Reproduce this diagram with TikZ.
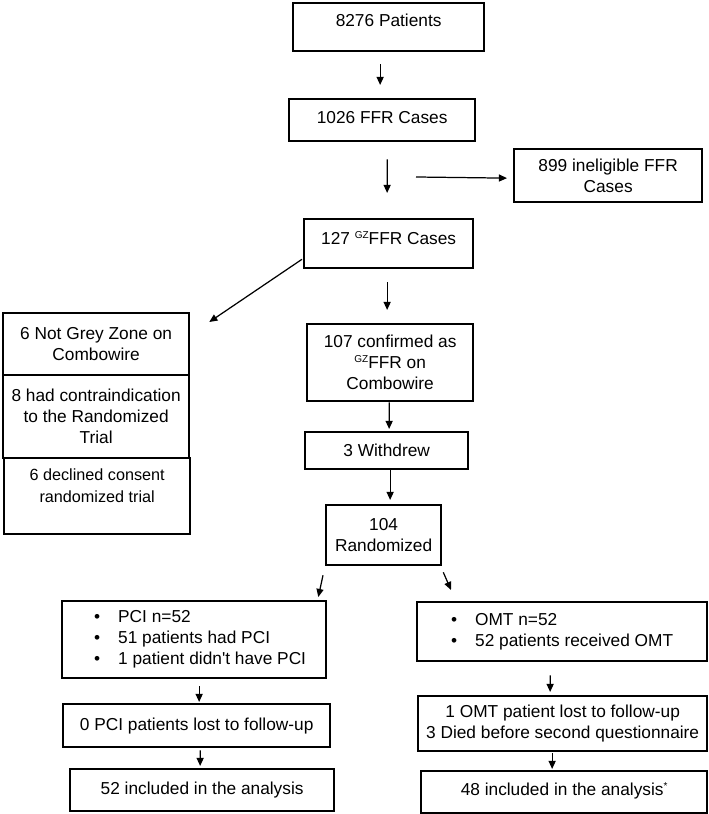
\documentclass[tikz,border=0pt]{standalone}
\usepackage{fontspec}
\setmainfont{Liberation Sans}
\usetikzlibrary{arrows.meta}

\newcommand{\gzmark}{\raisebox{3.4pt}{\fontsize{5.7pt}{5.7pt}\selectfont GZ}}
\newcommand{\starmark}{\raisebox{3.6pt}{\fontsize{5.7pt}{5.7pt}\selectfont *}}
\newcommand{\bul}{\makebox[0.48cm][l]{\textbullet}}

\tikzset{
  box/.style={draw, line width=1.3pt, rectangle, anchor=north west, inner sep=0pt,
    align=center, font=\fontsize{9.84pt}{11.95pt}\selectfont},
  smallbox/.style={box, font=\fontsize{9.22pt}{12.35pt}\selectfont},
  arrow/.style={line width=0.7pt, -{Triangle[length=4.6pt,width=4pt]}},
}

\begin{document}
\begin{tikzpicture}
                \useasboundingbox (0,0) rectangle (14.160000,16.280000);
                
                % Drawing box pat
                \draw (5.840000,16.240000) node (pat) [box, minimum width=3.82cm, minimum height=0.96cm, text depth=7.4pt] {8276 Patients};%
                
                % Drawing box ffr
                \draw (5.760000,14.320000) node (ffr) [box, minimum width=3.72cm, minimum height=0.84cm, text depth=3.4pt] {1026 FFR Cases};%
                
                % Drawing box inel
                \draw (10.260000,13.320000) node (inel) [box, minimum width=3.76cm, minimum height=1.06cm] {899 ineligible FFR\\Cases};%
                
                % Drawing box gz
                \draw (6.060000,11.920000) node (gz) [box, minimum width=3.38cm, minimum height=0.98cm, text height=7.05pt, text depth=6.3pt] {127 \gzmark FFR Cases};%
                
                % Drawing box ngz
                \draw (0.040000,10.040000) node (ngz) [box, minimum width=3.72cm, minimum height=1.24cm] {6 Not Grey Zone on\\Combowire};%
                
                % Drawing box contra
                \draw (0.040000,8.800000) node (contra) [box, minimum width=3.72cm, minimum height=1.66cm] {8 had contraindication\\to the Randomized\\Trial};%
                
                % Drawing box dec
                \draw (0.060000,7.140000) node (dec) [smallbox, minimum width=3.72cm, minimum height=1.52cm] {6 declined consent\\randomized trial\\\mbox{}};%
                
                % Drawing box conf
                \draw (6.120000,9.820000) node (conf) [box, minimum width=3.32cm, minimum height=1.54cm] {107 confirmed as\\\gzmark FFR on\\Combowire};%
                
                % Drawing box wd
                \draw (6.080000,7.660000) node (wd) [box, minimum width=3.26cm, minimum height=0.74cm] {3 Withdrew};%
                
                % Drawing box rnd
                \draw (6.500000,6.200000) node (rnd) [box, minimum width=2.30cm, minimum height=1.20cm] {104\\Randomized};%
                
                % Drawing box pci
                \draw (1.220000,4.280000) node (pci) [box, minimum width=5.28cm, minimum height=1.54cm] {\begin{tabular}{@{\hspace{0.24cm}}l@{}}\bul PCI n=52\\ \bul 51 patients had PCI\\ \bul 1 patient didn\textquotesingle t have PCI\end{tabular}};%
                
                % Drawing box omt
                \draw (8.320000,4.260000) node (omt) [box, minimum width=5.80cm, minimum height=1.18cm] {\begin{tabular}{@{}l@{}}\bul OMT n=52\\ \bul 52 patients received OMT\end{tabular}};%
                
                % Drawing box pcil
                \draw (1.240000,2.220000) node (pcil) [box, minimum width=5.34cm, minimum height=0.86cm] {0 PCI patients lost to follow-up};%
                
                % Drawing box omtl
                \draw (8.340000,2.380000) node (omtl) [box, minimum width=5.78cm, minimum height=1.10cm] {1 OMT patient lost to follow-up\\3 Died before second questionnaire};%
                
                % Drawing box pcia
                \draw (1.380000,0.920000) node (pcia) [box, minimum width=5.28cm, minimum height=0.84cm] {52 included in the analysis};%
                
                % Drawing box omta
                \draw (8.400000,0.880000) node (omta) [box, minimum width=5.72cm, minimum height=0.84cm, text depth=3.4pt] {48 included in the analysis\starmark};%
                
                % Drawing arrow pat ffr
                \draw [arrow] ([xshift=-0.17cm,yshift=-0.24cm]pat.south) -- ([xshift=-0.04cm,yshift=0.26cm]ffr.north);%
                
                % Drawing arrow ffr gz
                \draw [arrow] ([xshift=0.10cm,yshift=-0.34cm]ffr.south) -- ([xshift=-0.03cm,yshift=0.50cm]gz.north);%
                
                % Drawing arrow skip inel
                \coordinate (skip) at (8.320000,12.740000);
                \draw [arrow] (skip) -- ([xshift=-0.12cm,yshift=-0.05cm]inel.west);%
                
                % Drawing arrow gz ngz
                \draw [arrow] ([xshift=-0.02cm,yshift=0.20cm]gz.south west) -- ([xshift=0.38cm,yshift=-0.20cm]ngz.north east);%
                
                % Drawing arrow gz conf
                \draw [arrow] ([xshift=-0.03cm,yshift=-0.26cm]gz.south) -- ([xshift=-0.06cm,yshift=0.26cm]conf.north);%
                
                % Drawing arrow conf wd
                \draw [arrow] ([xshift=-0.02cm]conf.south) -- ([xshift=0.05cm,yshift=0.04cm]wd.north);%
                
                % Drawing arrow wd rnd
                \draw [arrow] ([xshift=0.07cm]wd.south) -- ([xshift=0.13cm,yshift=0.08cm]rnd.north);%
                
                % Drawing arrow rnd pci
                \draw [arrow] ([xshift=-0.04cm,yshift=-0.18cm]rnd.south west) -- ([xshift=-0.18cm,yshift=0.06cm]pci.north east);%
                
                % Drawing arrow rnd omt
                \draw [arrow] ([xshift=0.02cm,yshift=-0.12cm]rnd.south east) -- ([xshift=0.70cm,yshift=0.22cm]omt.north west);%
                
                % Drawing arrow pci pcil
                \draw [arrow] ([xshift=0.10cm,yshift=-0.14cm]pci.south) -- ([xshift=0.05cm,yshift=0.02cm]pcil.north);%
                
                % Drawing arrow pcil pcia
                \draw [arrow] ([xshift=0.07cm,yshift=-0.04cm]pcil.south) -- ([xshift=-0.04cm,yshift=0.04cm]pcia.north);%
                
                % Drawing arrow omt omtl
                \draw [arrow] ([xshift=-0.24cm,yshift=-0.26cm]omt.south) -- ([xshift=-0.25cm,yshift=0.06cm]omtl.north);%
                
                % Drawing arrow omtl omta
                \draw [arrow] ([xshift=-0.21cm,yshift=-0.02cm]omtl.south) -- ([xshift=-0.24cm,yshift=0.02cm]omta.north);%
\end{tikzpicture}
\end{document}
